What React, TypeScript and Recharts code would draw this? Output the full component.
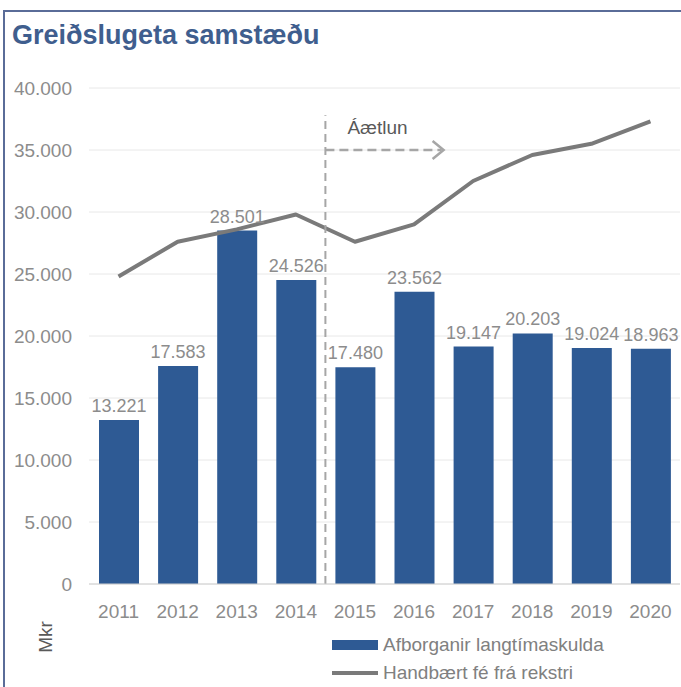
import React from 'react';
import {
  ComposedChart, Bar, Line, XAxis, YAxis, CartesianGrid, LabelList,
  ReferenceLine, Legend,
} from 'recharts';

const years = ['2011', '2012', '2013', '2014', '2015', '2016', '2017', '2018', '2019', '2020'];
const afborganir = [13221, 17583, 28501, 24526, 17480, 23562, 19147, 20203, 19024, 18963];
const handbaert = [24800, 27600, 28600, 29800, 27600, 29000, 32500, 34600, 35500, 37300];
const yTicks = [0, 5000, 10000, 15000, 20000, 25000, 30000, 35000, 40000];
const forecastStart = '2014';
const arrowEnd = '2016';

const data = years.map((y, i) => ({ year: y, afb: afborganir[i], hand: handbaert[i] }));

const FONT = '"Liberation Sans", Arial, sans-serif';
const BAR = '#2E5A94';
const LINE = '#7A7A7A';

const fmt = (v: number) => String(Math.round(v)).replace(/\B(?=(\d{3})+(?!\d))/g, '.');

const ArrowShape = (props: any) => {
  const { x1, y1, x2, y2 } = props;
  if (x1 == null) return null;
  return (
    <g>
      <line x1={x1} y1={y1} x2={x2 - 2} y2={y2} stroke="#A6A6A6" strokeWidth={2.5} strokeDasharray="9 5" />
      <polyline points={`${x2 - 11},${y2 - 9} ${x2},${y2} ${x2 - 11},${y2 + 9}`} fill="none" stroke="#A6A6A6" strokeWidth={2.5} />
      <text x={x1 + 22} y={y1 - 16} fontFamily={FONT} fontSize={19} fill="#595959">Áætlun</text>
    </g>
  );
};

const LegendContent = () => (
  <div style={{ fontFamily: FONT, fontSize: 19, color: '#808080', lineHeight: '28px' }}>
    <div style={{ display: 'flex', alignItems: 'center' }}>
      <span style={{ display: 'inline-block', width: 46, height: 10, background: BAR, marginRight: 5 }} />
      <span>Afborganir langtímaskulda</span>
    </div>
    <div style={{ display: 'flex', alignItems: 'center' }}>
      <span style={{ display: 'inline-block', width: 46, height: 4, background: LINE, marginRight: 5 }} />
      <span>Handbært fé frá rekstri</span>
    </div>
  </div>
);

export default function App() {
  return (
    <div style={{ position: 'absolute', left: 0, top: 0, width: 681, height: 687, background: '#fff', overflow: 'hidden' }}>
      <div style={{ position: 'absolute', left: 3, top: 10, width: 678, height: 677, borderTop: '2px solid #5A6C98', borderLeft: '2px solid #5A6C98', boxSizing: 'border-box' }} />
      <div style={{ position: 'absolute', left: 12, top: 20, fontFamily: FONT, fontSize: 27, fontWeight: 700, color: '#3F5E8E', whiteSpace: 'nowrap' }}>
        Greiðslugeta samstæðu
      </div>
      <ComposedChart
        width={681}
        height={687}
        data={data}
        margin={{ top: 88, right: 1, bottom: 73, left: 0 }}
        style={{ position: 'absolute', left: 0, top: 0 }}
      >
        <CartesianGrid vertical={false} stroke="#E8E8E8" />
        <XAxis
          dataKey="year"
          height={30}
          tickSize={0}
          tickMargin={21}
          axisLine={{ stroke: '#D0D0D0' }}
          tick={{ fontFamily: FONT, fontSize: 19, fill: '#8C8C8C' }}
        />
        <YAxis
          width={89}
          domain={[0, 40000]}
          ticks={yTicks}
          tickFormatter={fmt}
          tickSize={0}
          tickMargin={17}
          axisLine={false}
          tick={{ fontFamily: FONT, fontSize: 19, fill: '#8C8C8C' }}
          label={{
            value: 'Mkr',
            content: (p: any) => {
              const vb = p.viewBox || { x: 0, y: 88, width: 89, height: 496 };
              const cx = vb.x + 45;
              const cy = vb.y + vb.height + 53;
              return (
                <text x={cx} y={cy} transform={`rotate(-90 ${cx} ${cy})`} textAnchor="middle" dominantBaseline="central" fontFamily={FONT} fontSize={19} fill="#595959">Mkr</text>
              );
            },
          }}
        />
        <Bar dataKey="afb" fill={BAR} barSize={40} isAnimationActive={false}>
          <LabelList dataKey="afb" position="top" offset={8} formatter={(v: any) => fmt(Number(v))} style={{ fontFamily: FONT, fontSize: 18, fill: '#8C8C8C' }} />
        </Bar>
        <Line dataKey="hand" stroke={LINE} strokeWidth={4} dot={false} activeDot={false} isAnimationActive={false} strokeLinejoin="round" />
        <ReferenceLine
          segment={[{ x: forecastStart, y: 0 }, { x: forecastStart, y: 37800 }]}
          position="end"
          stroke="#A6A6A6"
          strokeWidth={2}
          strokeDasharray="8 5"
          ifOverflow="visible"
        />
        <ReferenceLine
          segment={[{ x: forecastStart, y: 35000 }, { x: arrowEnd, y: 35000 }]}
          position="end"
          shape={ArrowShape}
          ifOverflow="visible"
        />
        <Legend
          layout="horizontal"
          verticalAlign="middle"
          align="center"
          content={LegendContent}
          wrapperStyle={{ position: 'absolute', left: 332, top: 631, width: 320 }}
        />
      </ComposedChart>
    </div>
  );
}
